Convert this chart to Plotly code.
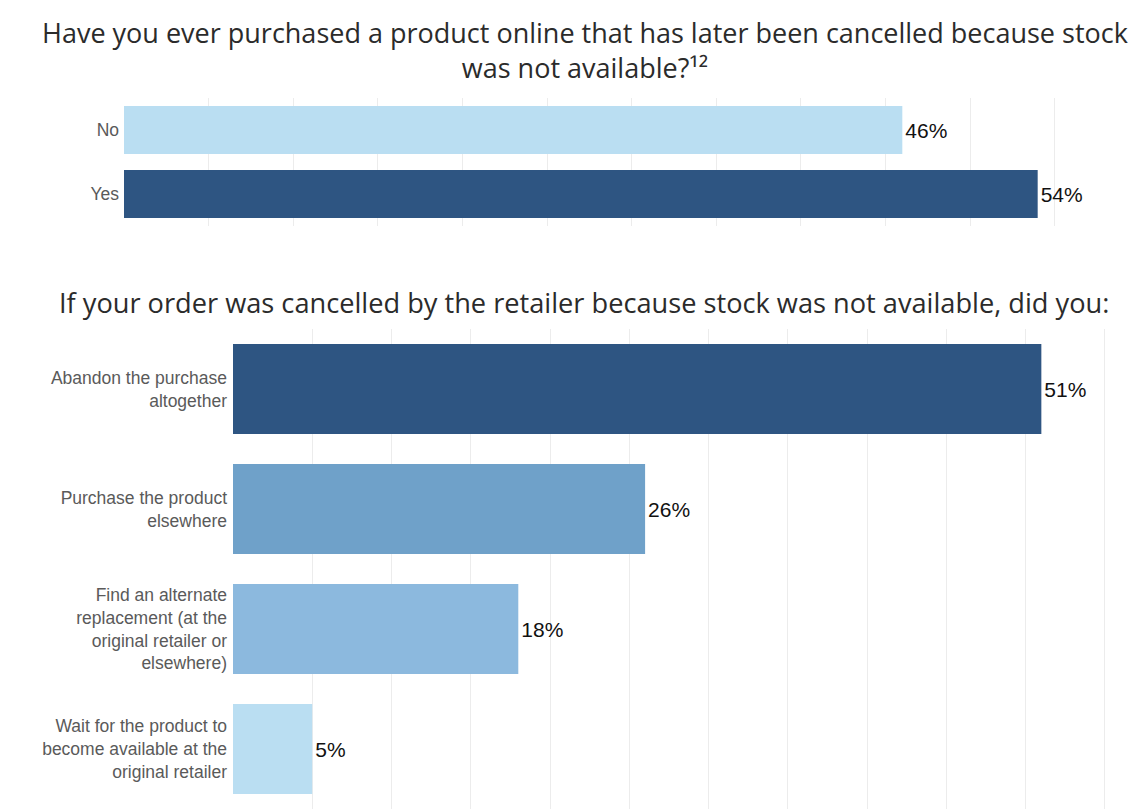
import plotly.graph_objects as go

W, H = 1148, 812

# Data
top_categories = ["No", "Yes"]
top_values = [46, 54]
top_colors = ["#badef2", "#2e5582"]

bottom_categories = [
    "Abandon the purchase<br>altogether",
    "Purchase the product<br>elsewhere",
    "Find an alternate<br>replacement (at the<br>original retailer or<br>elsewhere)",
    "Wait for the product to<br>become available at the<br>original retailer",
]
bottom_values = [51, 26, 18, 5]
bottom_colors = ["#2e5582", "#6fa1c9", "#8cb9de", "#badef2"]

title_top = "Have you ever purchased a product online that has later been cancelled because stock<br>was not available?¹²"
title_bottom = "If your order was cancelled by the retailer because stock was not available, did you:"

def px_x(p):
    return p / W

def px_y(p):
    return 1 - p / H

label_font = dict(family="Liberation Sans, Arial, sans-serif", size=21, color="#111111")
tick_font = dict(family="Liberation Sans, Arial, sans-serif", size=17.5, color="#5a5a5a")
title_font = dict(family="Open Sans, sans-serif", size=27, color="#2b2b2b")

fig = go.Figure()

fig.add_trace(go.Bar(
    y=top_categories, x=top_values, orientation="h",
    marker=dict(color=top_colors, line=dict(width=0)),
    text=[f"{v}%" for v in top_values], textposition="outside",
    textfont=label_font,
    cliponaxis=False, xaxis="x", yaxis="y", showlegend=False, hoverinfo="skip",
))

fig.add_trace(go.Bar(
    y=bottom_categories, x=bottom_values, orientation="h",
    marker=dict(color=bottom_colors, line=dict(width=0)),
    text=[f"{v}%" for v in bottom_values], textposition="outside",
    textfont=label_font,
    cliponaxis=False, xaxis="x2", yaxis="y2", showlegend=False, hoverinfo="skip",
))

R = 1135

fig.update_layout(
    width=W, height=H,
    margin=dict(l=0, r=0, t=0, b=0),
    paper_bgcolor="white", plot_bgcolor="white",
    bargap=0.25,
    xaxis=dict(domain=[px_x(124), px_x(R)], range=[0, (R - 124) / 16.92], dtick=5,
               showgrid=True, gridcolor="#ececec", gridwidth=1, zeroline=False,
               showticklabels=False, ticks="", fixedrange=True, anchor="y"),
    yaxis=dict(domain=[px_y(226), px_y(98)], autorange="reversed",
               tickfont=tick_font, ticks="", showgrid=False, zeroline=False,
               ticklabelstandoff=4, anchor="x", automargin=False),
    xaxis2=dict(domain=[px_x(233), px_x(R)], range=[0, (R - 233) / 15.85], dtick=5,
                showgrid=True, gridcolor="#ececec", gridwidth=1, zeroline=False,
                showticklabels=False, ticks="", fixedrange=True, anchor="y2"),
    yaxis2=dict(domain=[px_y(809), px_y(329)], autorange="reversed",
                tickfont=tick_font, ticks="", showgrid=False, zeroline=False,
                ticklabelstandoff=5, anchor="x2", automargin=False),
    annotations=[
        dict(text=title_top, x=px_x(585), y=px_y(12), xref="paper", yref="paper",
             xanchor="center", yanchor="top", showarrow=False, align="center",
             font=title_font),
        dict(text=title_bottom, x=px_x(584), y=px_y(282), xref="paper", yref="paper",
             xanchor="center", yanchor="top", showarrow=False, align="center",
             font=dict(family="Open Sans, sans-serif", size=27.2, color="#2b2b2b")),
    ],
)

fig.write_html("out.html", config={"displayModeBar": False},
               post_script="document.body.style.margin='0';")
